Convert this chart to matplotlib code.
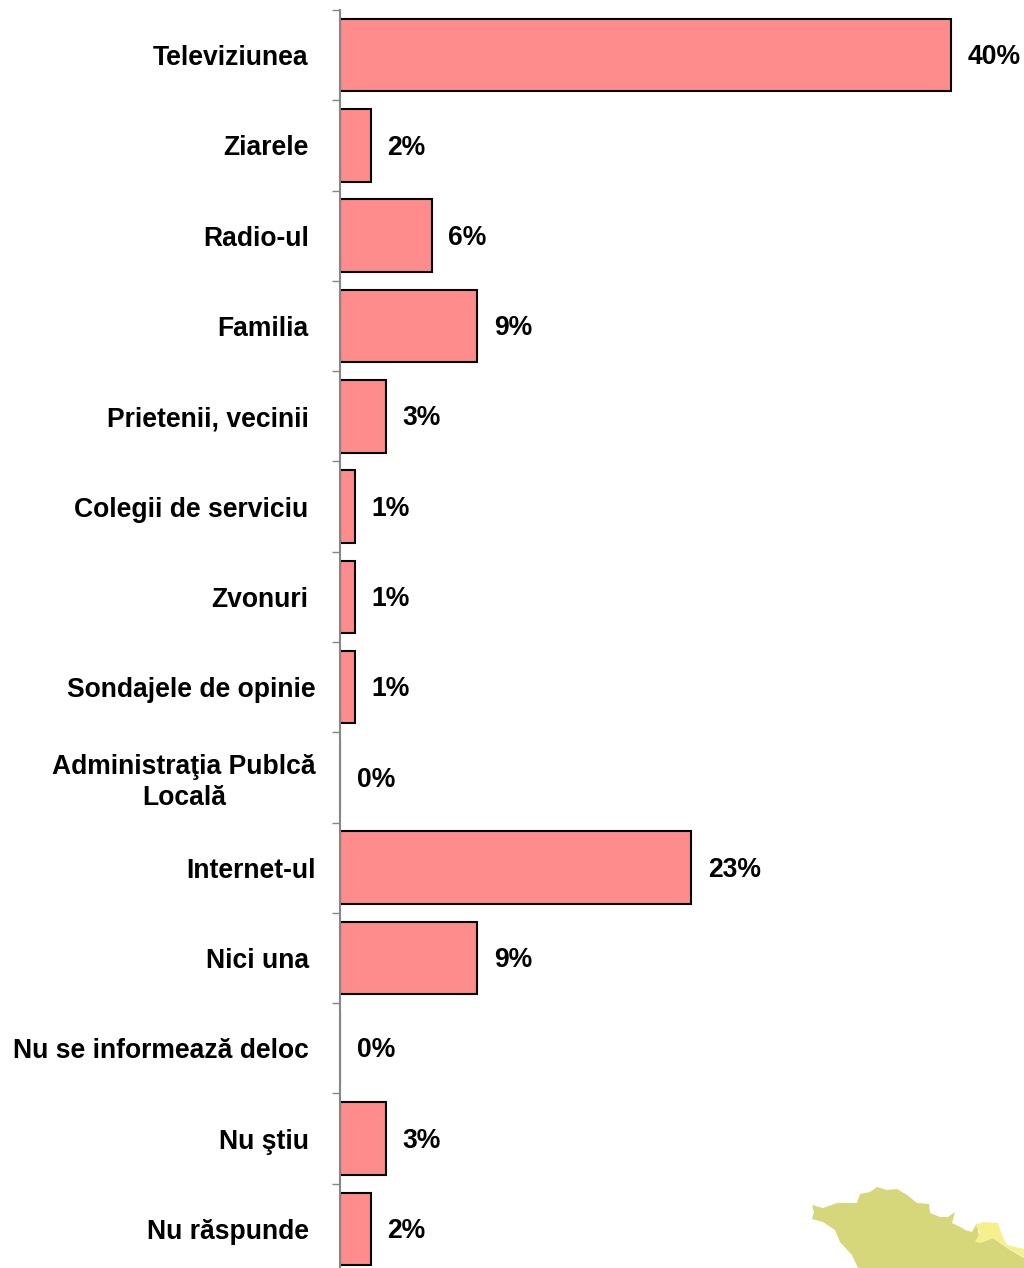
import numpy as np
import matplotlib
matplotlib.use('Agg')
import matplotlib.pyplot as plt
from matplotlib.patches import Polygon

plt.rcParams['font.family'] = ['Liberation Sans', 'DejaVu Sans']

# categories and values
categories = ['Televiziunea', 'Ziarele', 'Radio-ul', 'Familia', 'Prietenii, vecinii',
              'Colegii de serviciu', 'Zvonuri', 'Sondajele de opinie',
              'Administraţia Publcă\nLocală', 'Internet-ul', 'Nici una',
              'Nu se informează deloc', 'Nu ştiu', 'Nu răspunde']
values = [40, 2, 6, 9, 3, 1, 1, 1, 0, 23, 9, 0, 3, 2]
wide_labels = ['Sondajele de opinie', 'Administraţia Publcă\nLocală', 'Internet-ul']

# background map corner, in pixels of the 1024x1268 image
map_dark = [(812, 1205), (823, 1208), (837, 1203), (857, 1203), (860, 1194), (870, 1192),
            (877, 1187), (887, 1190), (897, 1189), (907, 1195), (917, 1203), (929, 1204),
            (930, 1213), (940, 1217), (948, 1217), (955, 1212), (952, 1223), (962, 1228),
            (965, 1230), (972, 1232), (977, 1223), (980, 1243), (993, 1238), (1007, 1248),
            (1024, 1258), (1024, 1268), (858, 1268), (852, 1255), (840, 1242), (835, 1230),
            (823, 1222), (812, 1219), (814, 1212)]
map_light = [(975, 1225), (983, 1222), (998, 1223), (1002, 1235), (1007, 1245), (1024, 1249),
             (1024, 1257), (1007, 1248), (993, 1238), (980, 1243), (975, 1242), (980, 1232)]

W, H = 1024, 1268
fig = plt.figure(figsize=(W / 100, H / 100), dpi=100)

def to_fig(pts):
    return [(x / W, 1 - y / H) for x, y in pts]

fig.add_artist(Polygon(to_fig(map_dark), closed=True, fc='#D6D67A', ec='none', zorder=0))
fig.add_artist(Polygon(to_fig(map_light), closed=True, fc='#F5F08C', ec='none', zorder=0))

# axes runs a little past the bottom edge, like the original crop
ax = fig.add_axes([340 / W, (H - 1274) / H, (W - 340) / W, 1264 / H])
ax.patch.set_alpha(0)

y = np.arange(len(categories))
ax.barh(y, values, height=0.805, color='#FF8C8C', edgecolor='black', linewidth=1.5)

for yi, v in zip(y, values):
    ax.annotate('{}%'.format(v), (v, yi), xytext=(16.5 * 0.72, -1.5), textcoords='offset points',
                va='center', ha='left', fontsize=19.1, fontweight='bold')

ax.set_xlim(0, 684 / 15.27)
ax.set_ylim(len(categories) - 0.5, -0.5)
ax.xaxis.set_visible(False)

ax.set_yticks(y)
ax.set_yticklabels(categories, fontsize=19.1, fontweight='bold', multialignment='center',
                   linespacing=1.25)
ax.set_yticks(np.arange(len(categories) + 1) - 0.5, minor=True)
ax.tick_params(axis='y', which='major', length=0)
ax.tick_params(axis='y', which='minor', length=5.5, width=1, color='#868686')
for tick, name in zip(ax.yaxis.get_major_ticks(), categories):
    tick.set_pad(17.5 if name in wide_labels else 22.5)

for side in ['top', 'right', 'bottom']:
    ax.spines[side].set_visible(False)
ax.spines['left'].set_color('#868686')
ax.spines['left'].set_linewidth(1.5)

fig.savefig('out.png', dpi=100)
